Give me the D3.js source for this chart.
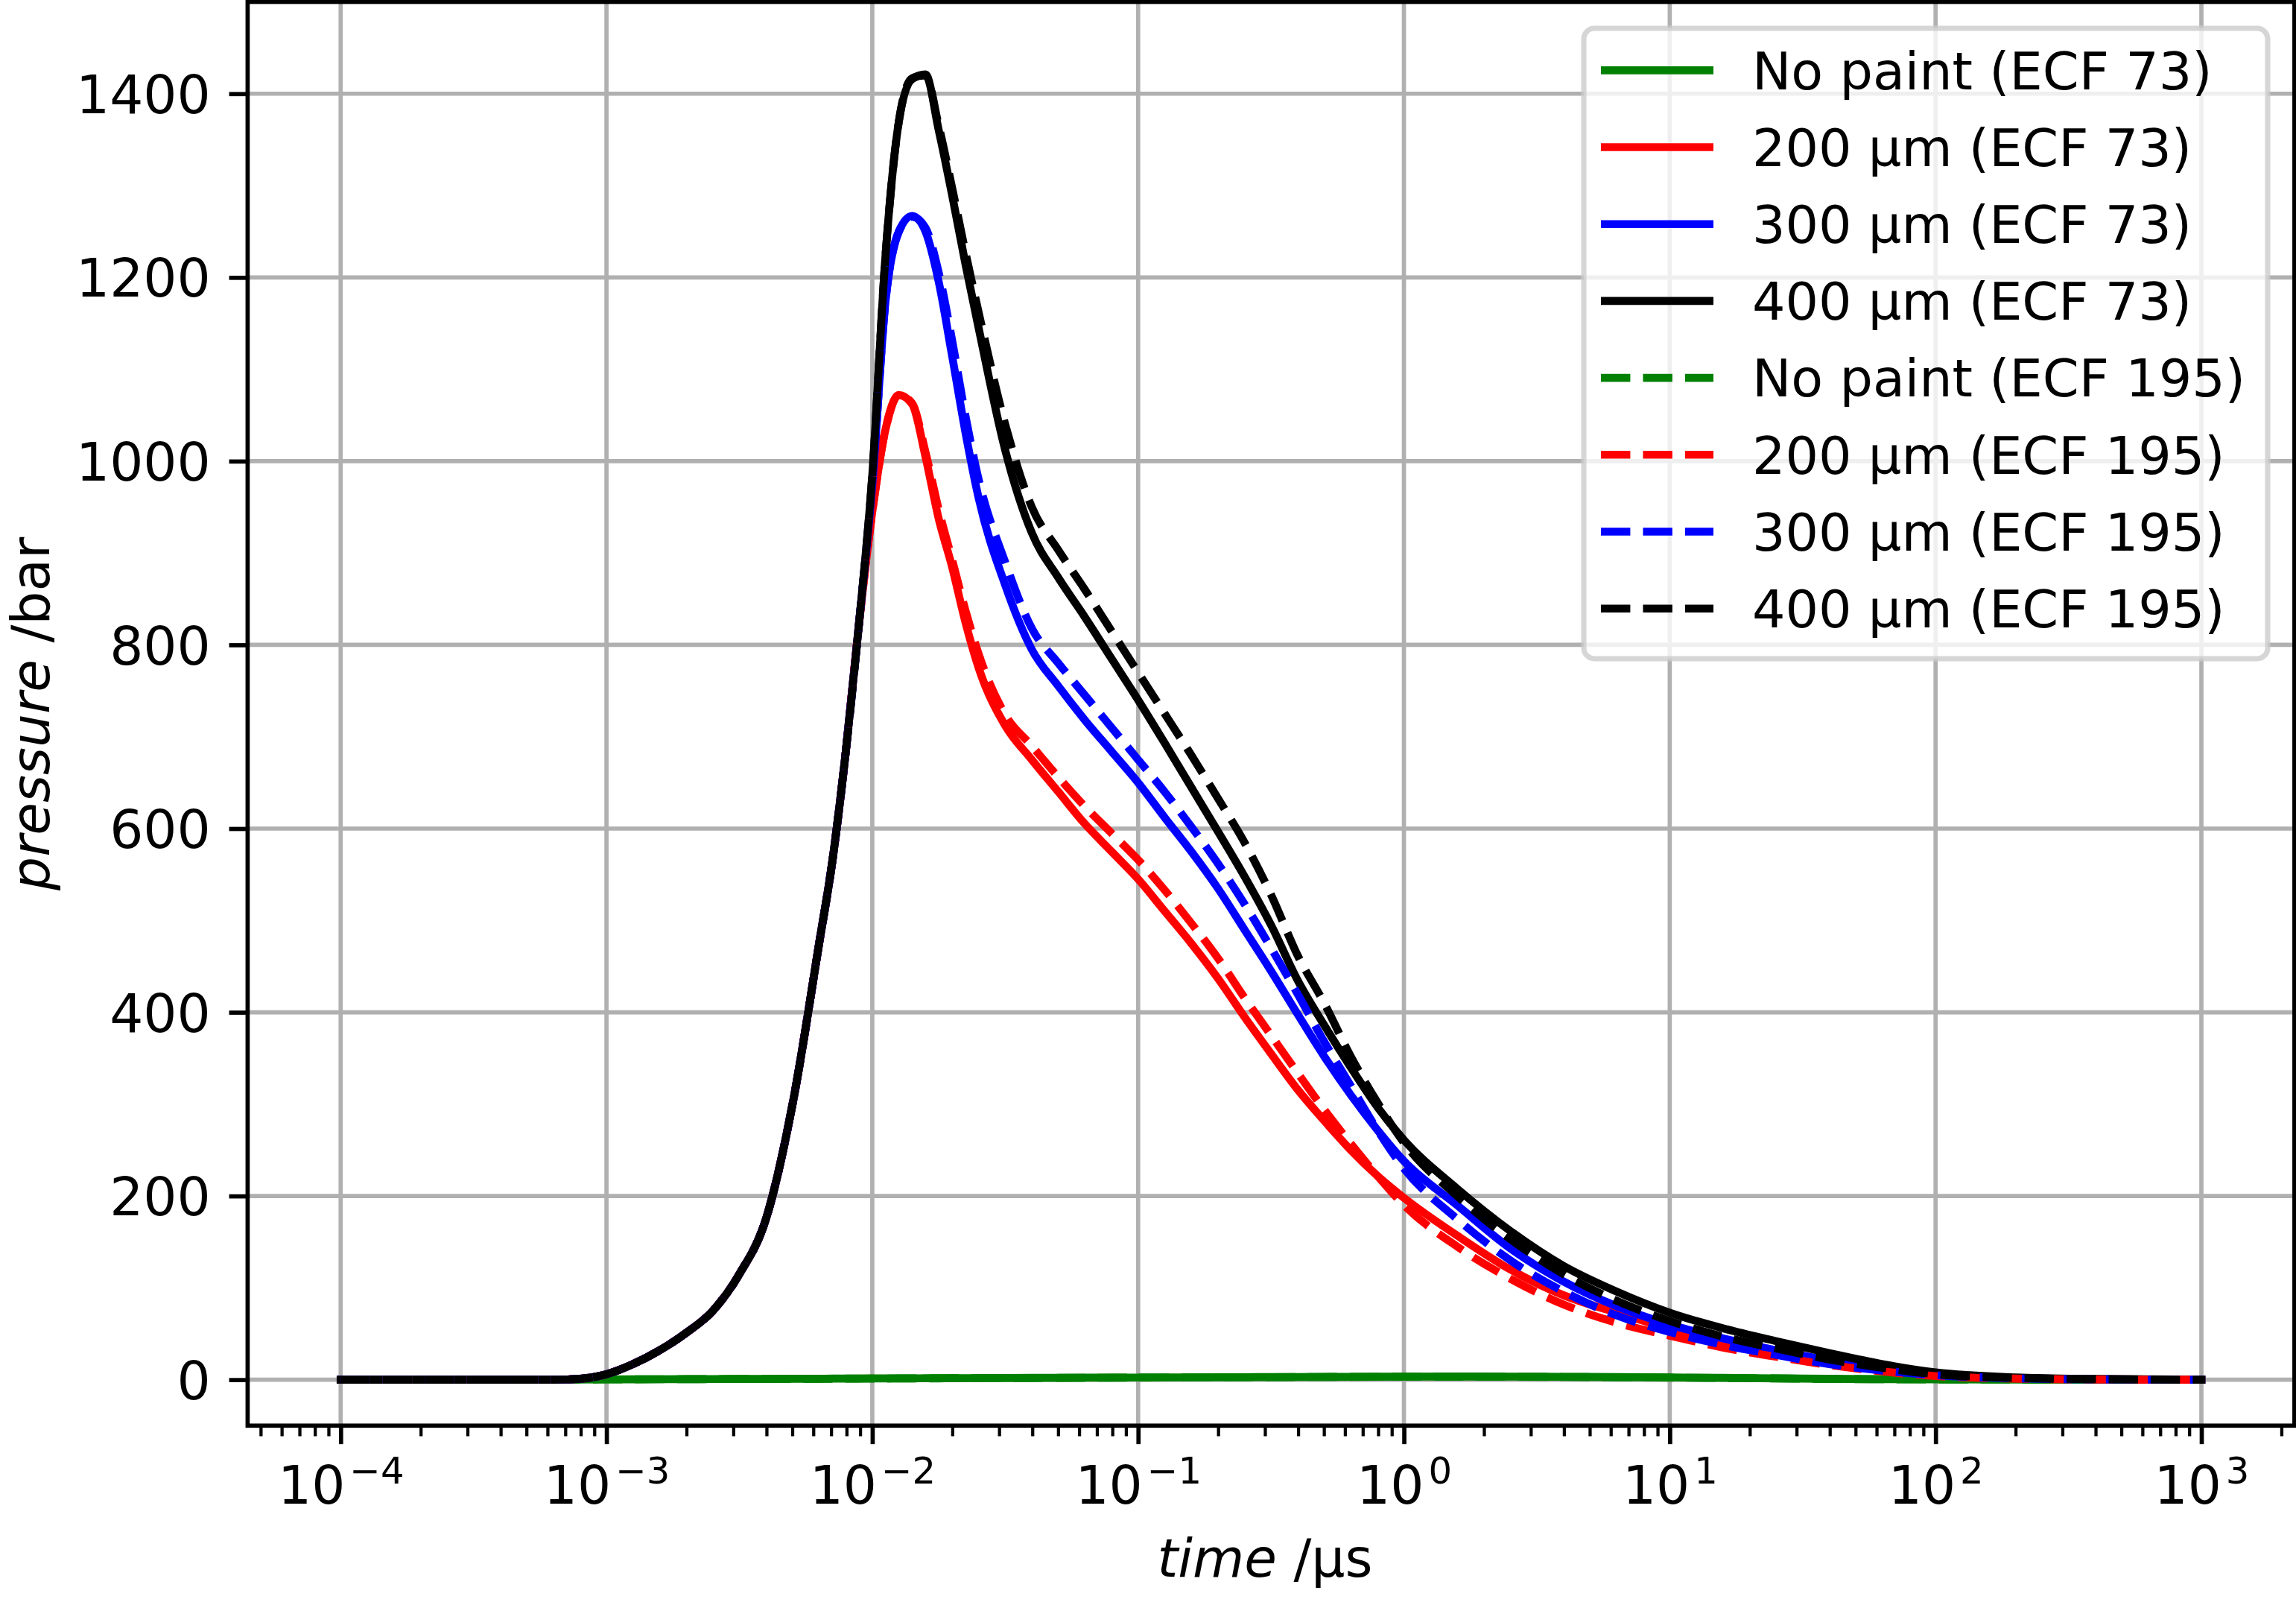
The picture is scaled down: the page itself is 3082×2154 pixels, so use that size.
<!DOCTYPE html>
<html>
<head>
<meta charset="utf-8">
<script src="https://cdn.jsdelivr.net/npm/d3@7"></script>
<style>
  body { margin: 0; background: #fff; }
  svg { display: block; font-family: "DejaVu Sans", sans-serif; }
</style>
</head>
<body>
<div id="chart"></div>
<script>
// ---- data ----
// time samples, as log10 of time in µs
const logTime = [-4, -3.5, -3.2, -3.1, -3.0, -2.9, -2.8, -2.7, -2.6, -2.5, -2.4, -2.3, -2.2, -2.15, -2.1, -2.05,
  -2.0, -1.95, -1.9, -1.85, -1.8, -1.75, -1.7, -1.65, -1.6, -1.5, -1.4, -1.3, -1.2, -1.1, -1.0,
  -0.9, -0.8, -0.7, -0.6, -0.5, -0.4, -0.3, -0.2, -0.1, 0, 0.2, 0.4, 0.6, 0.8, 1.0,
  1.2, 1.4, 1.6, 1.8, 2.0, 2.3, 2.6, 3.0];

// pressure in bar
const noPaint73 = [0, 0, 0.1, 0.2, 0.3, 0.4, 0.5, 0.6, 0.7, 0.8, 0.9, 1.0, 1.1, 1.2, 1.2, 1.3,
  1.4, 1.4, 1.5, 1.5, 1.6, 1.6, 1.7, 1.7, 1.8, 1.9, 2.0, 2.1, 2.2, 2.3, 2.4,
  2.5, 2.6, 2.7, 2.8, 2.9, 3.0, 3.1, 3.2, 3.3, 3.4, 3.5, 3.4, 3.2, 2.9, 2.5,
  2.0, 1.5, 1.0, 0.6, 0.3, 0.1, 0, 0];
const p200_73 = [0, 0, 0, 1, 6, 17, 32, 51, 75, 115, 175, 300, 475, 565, 683, 823,
  945, 1035, 1072, 1062, 1005, 937, 885, 825, 775, 712, 675, 640, 605, 575, 545,
  510, 475, 437, 395, 355, 316, 282, 250, 222, 198, 157, 120, 92, 73, 56,
  43, 31, 20, 11, 5, 1.5, 0.4, 0];
const p300_73 = [0, 0, 0, 1, 6, 17, 32, 51, 75, 115, 175, 300, 475, 565, 683, 823,
  975, 1175, 1250, 1267, 1250, 1195, 1115, 1032, 960, 865, 795, 755, 718, 684, 650,
  612, 575, 535, 490, 445, 398, 352, 310, 272, 238, 190, 143, 107, 80, 60,
  45, 32, 21, 12, 6, 1.8, 0.5, 0];
const p400_73 = [0, 0, 0, 1, 6, 17, 32, 51, 75, 115, 175, 300, 475, 565, 683, 823,
  985, 1225, 1370, 1416, 1421, 1360, 1290, 1215, 1145, 1012, 922, 873, 830, 785, 740,
  693, 645, 597, 548, 495, 435, 386, 340, 297, 261, 208, 162, 124, 96, 73,
  56, 42, 29, 17, 8, 2.5, 0.8, 0];
const noPaint195 = [0, 0, 0.1, 0.2, 0.3, 0.4, 0.5, 0.6, 0.7, 0.8, 0.9, 1.0, 1.1, 1.1, 1.2, 1.2,
  1.3, 1.3, 1.4, 1.4, 1.5, 1.5, 1.6, 1.6, 1.7, 1.8, 1.9, 2.0, 2.1, 2.2, 2.3,
  2.4, 2.5, 2.6, 2.7, 2.8, 2.9, 3.0, 3.1, 3.2, 3.3, 3.3, 3.2, 3.0, 2.7, 2.3,
  1.9, 1.4, 0.9, 0.5, 0.3, 0.1, 0, 0];
const p200_195 = [0, 0, 0, 1, 6, 17, 32, 51, 75, 115, 175, 300, 475, 565, 683, 823,
  945, 1035, 1072, 1063, 1010, 947, 893, 838, 790, 724, 690, 656, 624, 595, 566,
  533, 497, 459, 416, 375, 334, 294, 257, 222, 190, 145, 110, 82, 62, 48,
  35, 25, 16, 9, 4, 1.2, 0.3, 0];
const p300_195 = [0, 0, 0, 1, 6, 17, 32, 51, 75, 115, 175, 300, 475, 565, 683, 823,
  975, 1175, 1250, 1266, 1254, 1205, 1132, 1050, 980, 890, 818, 780, 745, 710, 675,
  640, 602, 562, 518, 470, 420, 368, 320, 272, 230, 175, 130, 96, 70, 52,
  38, 27, 17, 10, 5, 1.5, 0.4, 0];
const p400_195 = [0, 0, 0, 1, 6, 17, 32, 51, 75, 115, 175, 300, 475, 565, 683, 823,
  985, 1225, 1370, 1417, 1420, 1365, 1298, 1228, 1162, 1040, 950, 903, 860, 815, 770,
  725, 680, 633, 585, 528, 462, 410, 352, 302, 258, 200, 153, 115, 86, 64,
  47, 34, 22, 13, 6, 2, 0.6, 0];

const labels = ["No paint (ECF 73)", "200 µm (ECF 73)", "300 µm (ECF 73)", "400 µm (ECF 73)",
  "No paint (ECF 195)", "200 µm (ECF 195)", "300 µm (ECF 195)", "400 µm (ECF 195)"];
const colors = ["green", "red", "blue", "black", "green", "red", "blue", "black"];
const dashed = [false, false, false, false, true, true, true, true];
const values = [noPaint73, p200_73, p300_73, p400_73, noPaint195, p200_195, p300_195, p400_195];

const yTicks = [0, 200, 400, 600, 800, 1000, 1200, 1400];
const xTickExp = [-4, -3, -2, -1, 0, 1, 2, 3];

// ---- layout ----
const width = 3082, height = 2154;
const PT = 7.1;                // px per point
const FS = 71;                 // font size (10 pt)
const plot = { left: 332.4, right: 3079.9, top: 2.5, bottom: 1913.3 };

const svg = d3.select("#chart").append("svg")
  .attr("width", width)
  .attr("height", height)
  .style("background", "#fff");

const x = d3.scaleLog()
  .domain([Math.pow(10, -4.35), Math.pow(10, 3.35)])
  .range([plot.left, plot.right]);
const y = d3.scaleLinear()
  .domain([-50, 1500])
  .range([plot.bottom, plot.top]);

svg.append("defs").append("clipPath").attr("id", "clip")
  .append("rect")
  .attr("x", plot.left).attr("y", plot.top)
  .attr("width", plot.right - plot.left).attr("height", plot.bottom - plot.top);

// grid
const grid = svg.append("g").attr("stroke", "#b0b0b0").attr("stroke-width", 0.8 * PT);
grid.selectAll(".gx").data(xTickExp).join("line")
  .attr("x1", d => x(Math.pow(10, d))).attr("x2", d => x(Math.pow(10, d)))
  .attr("y1", plot.top).attr("y2", plot.bottom);
grid.selectAll(".gy").data(yTicks).join("line")
  .attr("x1", plot.left).attr("x2", plot.right)
  .attr("y1", d => y(d)).attr("y2", d => y(d));

// curves
const line = d3.line()
  .x((d, i) => x(Math.pow(10, logTime[i])))
  .y(d => y(d))
  .curve(d3.curveMonotoneX);

const dash = `${3.7 * 1.5 * PT},${1.6 * 1.5 * PT}`;
const curves = svg.append("g").attr("clip-path", "url(#clip)");
values.forEach((vals, k) => {
  curves.append("path")
    .attr("d", line(vals))
    .attr("fill", "none")
    .attr("stroke", colors[k])
    .attr("stroke-width", 1.5 * PT)
    .attr("stroke-linejoin", "round")
    .attr("stroke-linecap", dashed[k] ? "butt" : "square")
    .attr("stroke-dasharray", dashed[k] ? dash : null);
});

// x axis: major + minor ticks
const majorVals = xTickExp.map(e => Math.pow(10, e));
const minorVals = x.ticks().filter(v => Math.abs(Math.log10(v) - Math.round(Math.log10(v))) > 1e-6);

svg.append("g")
  .attr("transform", `translate(0,${plot.bottom})`)
  .call(d3.axisBottom(x).tickValues(minorVals).tickSize(2 * PT).tickFormat(() => ""))
  .call(g => g.select(".domain").remove())
  .call(g => g.selectAll(".tick line").attr("stroke", "#000").attr("stroke-width", 0.6 * PT));

const xAxis = svg.append("g")
  .attr("transform", `translate(0,${plot.bottom})`)
  .call(d3.axisBottom(x).tickValues(majorVals).tickSize(3.5 * PT).tickFormat(() => ""))
  .call(g => g.select(".domain").remove())
  .call(g => g.selectAll(".tick line").attr("stroke", "#000").attr("stroke-width", 0.8 * PT));

xAxis.selectAll(".tick").each(function (d) {
  const e = Math.round(Math.log10(d));
  const t = d3.select(this).append("text")
    .attr("x", 0).attr("y", 105)
    .attr("fill", "#000")
    .attr("text-anchor", "middle")
    .style("font-size", FS + "px")
    .style("font-family", "'DejaVu Sans', sans-serif");
  t.append("tspan").text("10");
  t.append("tspan")
    .attr("dy", -27).attr("dx", 6)
    .style("font-size", (FS * 0.7) + "px")
    .text(e < 0 ? "\u2212" + Math.abs(e) : String(e));
});

// y axis
svg.append("g")
  .attr("transform", `translate(${plot.left},0)`)
  .call(d3.axisLeft(y).tickValues(yTicks).tickSize(3.5 * PT).tickPadding(3.5 * PT).tickFormat(d3.format("d")))
  .call(g => g.select(".domain").remove())
  .call(g => g.selectAll(".tick line").attr("stroke", "#000").attr("stroke-width", 0.8 * PT))
  .call(g => g.selectAll(".tick text")
    .attr("fill", "#000")
    .attr("dy", "0.36em")
    .style("font-size", FS + "px")
    .style("font-family", "'DejaVu Sans', sans-serif"));

// spines
svg.append("rect")
  .attr("x", plot.left).attr("y", plot.top)
  .attr("width", plot.right - plot.left).attr("height", plot.bottom - plot.top)
  .attr("fill", "none").attr("stroke", "#000").attr("stroke-width", 0.8 * PT)
  .attr("stroke-linejoin", "miter");

// axis labels
const xl = svg.append("text")
  .attr("x", 1698).attr("y", 2116)
  .attr("text-anchor", "middle")
  .style("font-size", FS + "px");
xl.append("tspan").style("font-style", "italic").text("time");
xl.append("tspan").text(" /µs");

const yl = svg.append("text")
  .attr("transform", `translate(66,${(plot.top + plot.bottom) / 2}) rotate(-90)`)
  .attr("text-anchor", "middle")
  .style("font-size", FS + "px");
yl.append("tspan").style("font-style", "italic").text("pressure");
yl.append("tspan").text(" /bar");

// legend
const lg = { left: 2126, top: 38, right: 3044, bottom: 884, row0: 94.3, pitch: 103.2 };
const legend = svg.append("g");
legend.append("rect")
  .attr("x", lg.left).attr("y", lg.top)
  .attr("width", lg.right - lg.left).attr("height", lg.bottom - lg.top)
  .attr("rx", 0.2 * FS).attr("ry", 0.2 * FS)
  .attr("fill", "#fff").attr("fill-opacity", 0.8)
  .attr("stroke", "#ccc").attr("stroke-opacity", 0.8)
  .attr("stroke-width", 1.0 * PT);

const entries = legend.selectAll(".entry")
  .data(labels)
  .join("g")
  .attr("transform", (d, i) => `translate(0,${lg.row0 + i * lg.pitch})`);

entries.append("line")
  .attr("x1", 2149).attr("x2", 2300)
  .attr("y1", 0).attr("y2", 0)
  .attr("stroke", (d, i) => colors[i])
  .attr("stroke-width", 1.5 * PT)
  .attr("stroke-dasharray", (d, i) => dashed[i] ? dash : null);

entries.append("text")
  .attr("x", 2352).attr("y", 0).attr("dy", "0.36em")
  .style("font-size", "70px")
  .text(d => d);
</script>
</body>
</html>
